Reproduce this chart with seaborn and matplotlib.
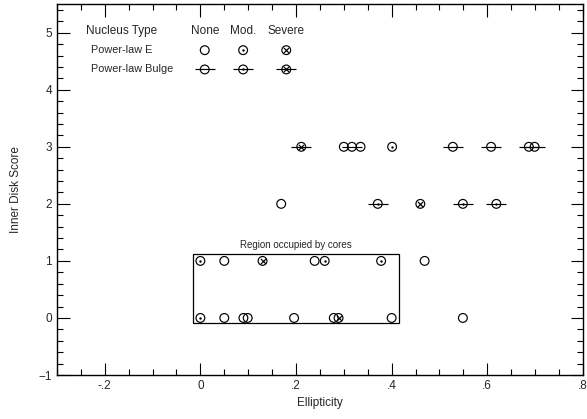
import numpy as np
import pandas as pd
import seaborn as sns
import matplotlib.pyplot as plt
from matplotlib.patches import Rectangle
from matplotlib.ticker import MultipleLocator, FuncFormatter

# ellipticity, inner disk score, profile type, nucleus type
ell = [0.211, 0.300, 0.317, 0.335, 0.401, 0.528, 0.608, 0.687, 0.699,
       0.169, 0.371, 0.460, 0.549, 0.619,
       0.000, 0.050, 0.130, 0.239, 0.260, 0.378, 0.469,
       0.000, 0.050, 0.090, 0.099, 0.196, 0.279, 0.289, 0.400, 0.549]
score = [3, 3, 3, 3, 3, 3, 3, 3, 3,
         2, 2, 2, 2, 2,
         1, 1, 1, 1, 1, 1, 1,
         0, 0, 0, 0, 0, 0, 0, 0, 0]
profile = ["Bulge", "E", "Bulge", "E", "E", "Bulge", "Bulge", "Bulge", "Bulge",
           "E", "Bulge", "E", "Bulge", "Bulge",
           "E", "E", "E", "E", "E", "E", "E",
           "E", "E", "E", "E", "E", "E", "E", "E", "E"]
nucleus = ["Severe", "None", "None", "None", "Mod.", "None", "None", "None", "None",
           "None", "Mod.", "Severe", "Mod.", "Mod.",
           "Mod.", "None", "Severe", "None", "Mod.", "Mod.", "None",
           "Mod.", "None", "None", "None", "None", "None", "Severe", "None", "None"]

region_x = [-0.015, 0.416]
region_y = [-0.09, 1.125]

df = pd.DataFrame({"ell": ell, "score": score, "profile": profile, "nucleus": nucleus})

sns.set_style("ticks")
plt.rcParams["font.family"] = ["Liberation Sans", "DejaVu Sans"]

fig, ax = plt.subplots(figsize=(5.87, 4.19), dpi=100)
fig.subplots_adjust(left=0.097, right=0.993, top=0.990, bottom=0.105)


def draw_symbols(ax, d, x, y, **kw):
    # open circle for every point, plus bar / dot / cross decorations
    sns.scatterplot(data=d, x=x, y=y, marker="o", s=40, facecolor="none",
                    edgecolor="black", linewidth=0.85, ax=ax, legend=False, **kw)
    bul = d[d["profile"] == "Bulge"]
    if len(bul):
        sns.scatterplot(data=bul, x=x, y=y, marker="_", s=200, color="black",
                        linewidth=0.85, ax=ax, legend=False, **kw)
    mod = d[d["nucleus"] == "Mod."]
    if len(mod):
        sns.scatterplot(data=mod, x=x, y=y, marker="o", s=3, color="black",
                        linewidth=0, ax=ax, legend=False, **kw)
    sev = d[d["nucleus"] == "Severe"]
    if len(sev):
        sns.scatterplot(data=sev, x=x, y=y, marker="x", s=14, color="black",
                        linewidth=0.85, ax=ax, legend=False, **kw)


draw_symbols(ax, df, "ell", "score")

ax.add_patch(Rectangle((region_x[0], region_y[0]), region_x[1] - region_x[0],
                       region_y[1] - region_y[0], fill=False, ec="black", lw=0.9))
ax.text(np.mean(region_x), region_y[1] + 0.16, "Region occupied by cores",
        ha="center", va="center", fontsize=7)

# legend table drawn inside the axes
leg_cols = ["None", "Mod.", "Severe"]
leg_rows = ["E", "Bulge"]
leg_names = ["Power-law E", "Power-law Bulge"]
col_x = [0.281, 0.354, 0.436]
row_y = [0.876, 0.824]
ax.text(0.056, 0.929, "Nucleus Type", transform=ax.transAxes, fontsize=8.5,
        ha="left", va="center")
for cx, c in zip(col_x, leg_cols):
    ax.text(cx, 0.929, c, transform=ax.transAxes, fontsize=8.5, ha="center", va="center")
leg = pd.DataFrame([{"lx": cx, "ly": ry, "profile": p, "nucleus": c}
                    for ry, p in zip(row_y, leg_rows) for cx, c in zip(col_x, leg_cols)])
draw_symbols(ax, leg, "lx", "ly", transform=ax.transAxes)
for ry, name in zip(row_y, leg_names):
    ax.text(0.065, ry, name, transform=ax.transAxes, fontsize=7.8, ha="left", va="center")

ax.set_xlim(-0.3, 0.8)
ax.set_ylim(-1, 5.5)
ax.xaxis.set_major_locator(MultipleLocator(0.2))
ax.xaxis.set_minor_locator(MultipleLocator(0.05))
ax.yaxis.set_major_locator(MultipleLocator(1))
ax.yaxis.set_minor_locator(MultipleLocator(0.2))


def fmt(v, pos):
    if abs(v) < 1e-9:
        return "0"
    s = f"{v:.1f}"
    return s.replace("0.", ".")


ax.xaxis.set_major_formatter(FuncFormatter(fmt))
ax.tick_params(which="both", direction="in", top=True, right=True, labelsize=8.5,
               width=0.8, color="black")
ax.tick_params(which="major", length=9)
ax.tick_params(which="minor", length=4.5)
for sp in ax.spines.values():
    sp.set_linewidth(1.0)
    sp.set_color("black")

ax.set_xlabel("Ellipticity", fontsize=8.5)
ax.set_ylabel("Inner Disk Score", fontsize=8.5, labelpad=12)

fig.savefig("out.png", dpi=100)
